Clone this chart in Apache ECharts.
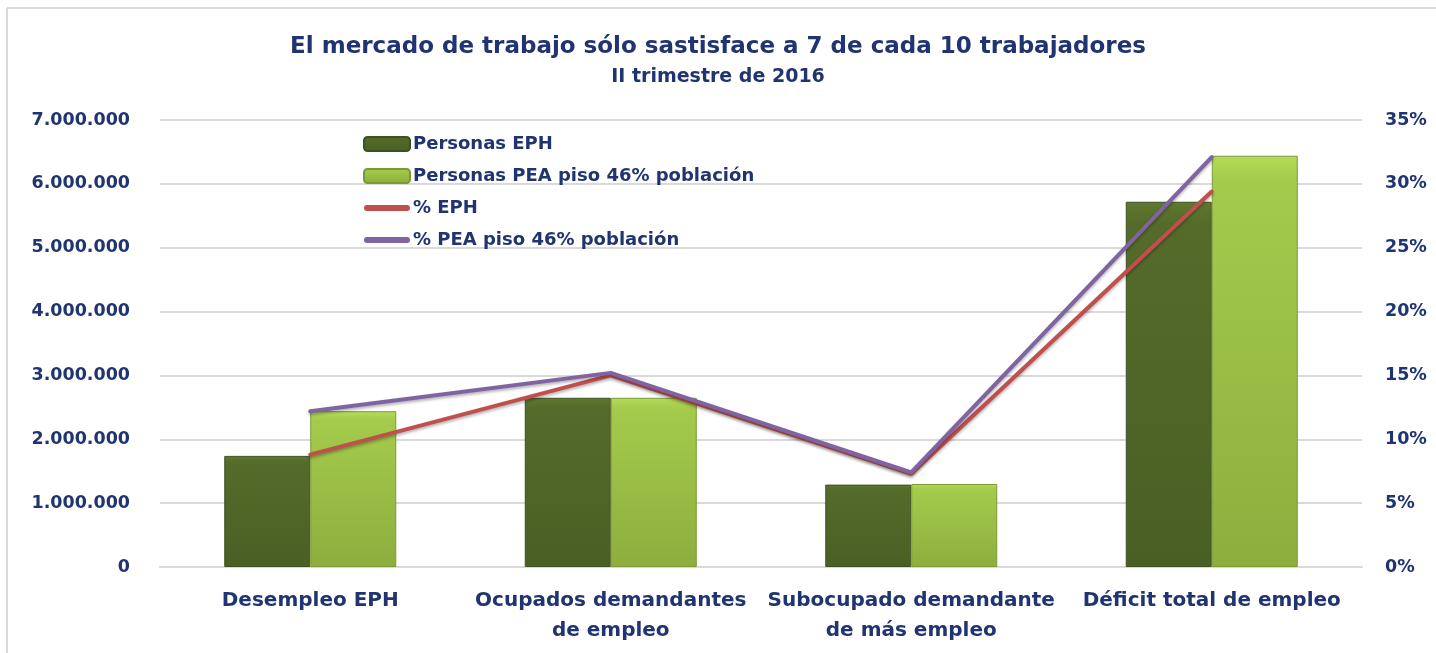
<!DOCTYPE html>
<html>
<head>
<meta charset="utf-8">
<script src="https://cdn.jsdelivr.net/npm/echarts@6/dist/echarts.min.js"></script>
<style>
  html, body { margin: 0; padding: 0; background: #fff; }
  #echarts { position: relative; width: 1436px; height: 653px; }
</style>
</head>
<body>
<div id="echarts"></div>
<script>
  var categorias = ['Desempleo EPH', 'Ocupados demandantes\nde empleo', 'Subocupado demandante\nde más empleo', 'Déficit total de empleo']
  var personasEPH = [1740000, 2650000, 1290000, 5720000]
  var personasPEA = [2440000, 2650000, 1300000, 6440000]
  var pctEPH = [8.8, 15.0, 7.3, 29.4]
  var pctPEA = [12.2, 15.2, 7.4, 32.1]

  var azul = '#1f3470'
  var fuente = '"DejaVu Sans", "Open Sans", sans-serif'
  // icono de linea gruesa con extremos redondeados para la leyenda
  var iconoLinea = 'path://M3,0 L43,0 A3,3 0 0 1 43,6 L3,6 A3,3 0 0 1 3,0 Z'

  var formatoMiles = function (v) {
    return String(v).replace(/\B(?=(\d{3})+(?!\d))/g, '.')
  }

  var myChart = echarts.init(document.getElementById('echarts'))
  myChart.setOption({
    animation: false,
    backgroundColor: '#fff',
    textStyle: { fontFamily: fuente },
    title: {
      text: 'El mercado de trabajo sólo sastisface a 7 de cada 10 trabajadores',
      subtext: 'II trimestre de 2016',
      left: 'center',
      top: 31,
      itemGap: 9,
      textStyle: { color: azul, fontSize: 23, fontWeight: 'bold', fontFamily: fuente },
      subtextStyle: { color: azul, fontSize: 19, fontWeight: 'bold', fontFamily: fuente }
    },
    graphic: [
      { type: 'line', shape: { x1: 7, y1: 8, x2: 1436, y2: 8 }, style: { stroke: '#d9d9d9', lineWidth: 2 } },
      { type: 'line', shape: { x1: 7, y1: 8, x2: 7, y2: 653 }, style: { stroke: '#d9d9d9', lineWidth: 2 } }
    ],
    legend: {
      orient: 'vertical',
      left: 358,
      top: 130,
      itemGap: 14,
      itemWidth: 46,
      itemHeight: 14,
      textStyle: { color: azul, fontSize: 18, fontWeight: 'bold', fontFamily: fuente, padding: [0, 0, 0, -2] },
      data: [
        { name: 'Personas EPH' },
        { name: 'Personas PEA piso 46% población' },
        { name: '% EPH', icon: iconoLinea },
        { name: '% PEA piso 46% población', icon: iconoLinea }
      ]
    },
    grid: { left: 160, right: 74, top: 120, bottom: 86 },
    xAxis: {
      type: 'category',
      data: categorias,
      axisTick: { show: false },
      axisLine: { show: true, lineStyle: { color: '#d9d9d9', width: 2 } },
      axisLabel: { color: azul, fontSize: 20, fontWeight: 'bold', lineHeight: 30, margin: 19, interval: 0 }
    },
    yAxis: [
      {
        type: 'value',
        min: 0,
        max: 7000000,
        interval: 1000000,
        axisLine: { show: false },
        axisTick: { show: false },
        splitLine: { lineStyle: { color: '#d9d9d9', width: 2 } },
        axisLabel: { color: azul, fontSize: 17.5, fontWeight: 'bold', margin: 30, formatter: formatoMiles }
      },
      {
        type: 'value',
        min: 0,
        max: 35,
        interval: 5,
        axisLine: { show: false },
        axisTick: { show: false },
        splitLine: { show: false },
        axisLabel: { color: azul, fontSize: 17.5, fontWeight: 'bold', margin: 23, formatter: '{value}%' }
      }
    ],
    series: [
      {
        name: 'Personas EPH',
        type: 'bar',
        data: personasEPH,
        barWidth: 86,
        barGap: '0%',
        itemStyle: {
          color: new echarts.graphic.LinearGradient(0, 0, 0, 1, [
            { offset: 0, color: '#60782f' },
            { offset: 0.06, color: '#556b2a' },
            { offset: 1, color: '#4a5f24' }
          ]),
          borderColor: '#3f5120',
          borderWidth: 1
        }
      },
      {
        name: 'Personas PEA piso 46% población',
        type: 'bar',
        data: personasPEA,
        barWidth: 86,
        barGap: '0%',
        itemStyle: {
          color: new echarts.graphic.LinearGradient(0, 0, 0, 1, [
            { offset: 0, color: '#b4dc58' },
            { offset: 0.06, color: '#a4cb4c' },
            { offset: 1, color: '#8dae3e' }
          ]),
          borderColor: '#7a9a34',
          borderWidth: 1
        }
      },
      {
        name: '% EPH',
        type: 'line',
        yAxisIndex: 1,
        data: pctEPH,
        symbol: 'none',
        lineStyle: { color: '#c0504d', width: 4, cap: 'round', shadowColor: 'rgba(0,0,0,0.3)', shadowBlur: 3, shadowOffsetY: 2 },
        itemStyle: { color: '#c0504d' }
      },
      {
        name: '% PEA piso 46% población',
        type: 'line',
        yAxisIndex: 1,
        data: pctPEA,
        symbol: 'none',
        lineStyle: { color: '#8064a2', width: 4, cap: 'round', shadowColor: 'rgba(0,0,0,0.3)', shadowBlur: 3, shadowOffsetY: 2 },
        itemStyle: { color: '#8064a2' }
      }
    ]
  })
</script>
</body>
</html>
